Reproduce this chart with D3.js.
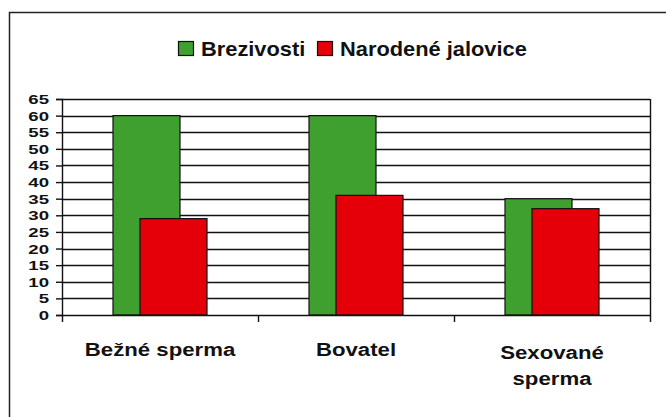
<!DOCTYPE html>
<html>
<head>
<meta charset="utf-8">
<script src="https://cdn.jsdelivr.net/npm/d3@7"></script>
<style>
  body { margin: 0; background: #fff; }
  svg { display: block; font-family: "Liberation Sans", Arial, sans-serif; font-weight: bold; }
</style>
</head>
<body>
<svg id="chart" width="666" height="417"></svg>
<script>
const categories = [['Bežné sperma'], ['Bovatel'], ['Sexované', 'sperma']];
const seriesNames = ['Brezivosti', 'Narodené jalovice'];
const brezivosti = [60, 60, 35];
const jalovice = [29, 36, 32];
const yTicks = d3.range(0, 66, 5);
const colors = ['#3f9f2f', '#e50009'];

const svg = d3.select('#chart');
const margin = { top: 99, right: 16, bottom: 102, left: 62 };
const width = 666;
const height = 417;
const innerWidth = width - margin.left - margin.right;
const innerHeight = height - margin.top - margin.bottom;

// outer frame
svg.append('rect')
  .attr('x', 9.5).attr('y', 12.5)
  .attr('width', 670).attr('height', 420)
  .attr('fill', 'none').attr('stroke', '#222').attr('stroke-width', 1.5);

const plot = svg.append('g').attr('transform', `translate(${margin.left},${margin.top})`);

const x = d3.scaleBand().domain(d3.range(categories.length)).range([0, innerWidth]);
const y = d3.scaleLinear().domain([0, 65]).range([innerHeight, 0]);

// text stretched sideways like the original export
function wideText(parent, px, py, sx, size, anchor) {
  return parent.append('g')
    .attr('transform', `translate(${px},${py}) scale(${sx},1)`)
    .append('text')
    .attr('text-anchor', anchor)
    .attr('fill', '#111')
    .style('font-size', size + 'px');
}

// gridlines
plot.append('g')
  .selectAll('line')
  .data(yTicks.slice(1))
  .join('line')
  .attr('x1', 0).attr('x2', innerWidth)
  .attr('y1', d => Math.round(y(d)) + 0.5).attr('y2', d => Math.round(y(d)) + 0.5)
  .attr('stroke', '#111').attr('stroke-width', 1.4);
plot.append('line')
  .attr('x1', innerWidth + 0.5).attr('x2', innerWidth + 0.5)
  .attr('y1', 0).attr('y2', innerHeight)
  .attr('stroke', '#111').attr('stroke-width', 1.4);

// bars
const barW = 67;
const offset = 27;
const groupStart = bw => (bw - (barW + offset)) / 2;
const seriesData = [brezivosti, jalovice];
seriesData.forEach((values, s) => {
  plot.append('g')
    .selectAll('rect')
    .data(values)
    .join('rect')
    .attr('x', (d, i) => x(i) + groupStart(x.bandwidth()) + s * offset)
    .attr('y', d => y(d))
    .attr('width', barW)
    .attr('height', d => innerHeight - y(d))
    .attr('fill', colors[s])
    .attr('stroke', '#111')
    .attr('stroke-width', 1.2);
});

// y axis
const yAxis = plot.append('g')
  .call(d3.axisLeft(y).tickValues(yTicks).tickSize(6).tickFormat(''));
yAxis.select('.domain').attr('stroke', '#111').attr('stroke-width', 1.4);
yAxis.selectAll('.tick line').attr('stroke', '#111').attr('stroke-width', 1.4);
yTicks.forEach(t => {
  wideText(plot, -13, y(t) + 5, 1.38, 13.5, 'end').text(t);
});

// x axis
const xAxisG = plot.append('g').attr('transform', `translate(0,${innerHeight})`);
xAxisG.append('line')
  .attr('x1', 0).attr('x2', innerWidth).attr('y1', 0.5).attr('y2', 0.5)
  .attr('stroke', '#111').attr('stroke-width', 1.4);
xAxisG.selectAll('line.tick')
  .data(d3.range(categories.length + 1))
  .join('line')
  .attr('class', 'tick')
  .attr('x1', d => d * x.step() + 0.5).attr('x2', d => d * x.step() + 0.5)
  .attr('y1', 0).attr('y2', 7)
  .attr('stroke', '#111').attr('stroke-width', 1.4);

categories.forEach((lines, i) => {
  const cx = x(i) + x.bandwidth() / 2;
  const base = lines.length > 1 ? innerHeight + 44 : innerHeight + 41;
  lines.forEach((line, j) => {
    wideText(plot, cx, base + j * 26, 1.2, 18.5, 'middle').text(line);
  });
});

// legend
const legendItems = [
  { name: seriesNames[0], color: colors[0], x: 178 },
  { name: seriesNames[1], color: colors[1], x: 317 }
];
const legend = svg.append('g');
legendItems.forEach(item => {
  legend.append('rect')
    .attr('x', item.x + 0.5).attr('y', 41.5)
    .attr('width', 15).attr('height', 14)
    .attr('fill', item.color).attr('stroke', '#111').attr('stroke-width', 1.2);
  wideText(legend, item.x + 23, 55.7, 1.12, 19.5, 'start').text(item.name);
});
</script>
</body>
</html>
